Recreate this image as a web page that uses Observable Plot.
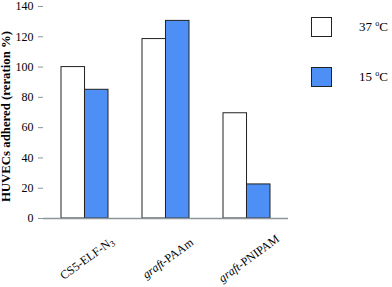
<!DOCTYPE html>
<html>
<head>
<meta charset="utf-8">
<script src="https://cdn.jsdelivr.net/npm/d3@7"></script>
<script src="https://cdn.jsdelivr.net/npm/@observablehq/plot@0.6"></script>
<style>
  html, body { margin: 0; padding: 0; background: #fff; }
  #wrap { position: relative; width: 392px; height: 287px; font-family: "Liberation Serif", "Times New Roman", serif; }
  .leg { position: absolute; left: 311px; width: 21px; height: 20px; box-sizing: border-box; border: 1px solid #222; }
  .legt { position: absolute; left: 359px; font-size: 13px; line-height: 14px; color: #000; white-space: nowrap; }
  .legt sup { font-size: 8px; vertical-align: 5px; line-height: 0; }
</style>
</head>
<body>
<div id="wrap"></div>
<script>
const categories = ["CS5-ELF-N3", "graft-PAAm", "graft-PNIPAM"];
// tick label pieces: italic prefix, plain main part, subscript suffix
const labelPrefix = ["", "graft", "graft"];
const labelMain = ["CS5-ELF-N", "-PAAm", "-PNIPAM"];
const labelSub = ["3", "", ""];
const seriesNames = ["37 °C", "15 °C"];
const values37 = [100, 118.5, 69.5];
const values15 = [85, 130.5, 22.5];
const yTicks = [0, 20, 40, 60, 80, 100, 120, 140];
const yLabel = "HUVECs adhered (reration %)";

const colors = ["#ffffff", "#4d8ff5"];
const W = 392, H = 287;
const mL = 43, mR = 104, mT = 6, mB = 69;
const pIn = 0.425, pOut = pIn / 2;
const step = (W - mL - mR) / (categories.length - pIn + 2 * pOut);
const bw = step * (1 - pIn);
const rot = -36;
const FONT = "'Liberation Serif', 'Times New Roman', serif";
const labSize = 12, subSize = 8.5;

const d37 = categories.map((c, i) => ({cat: c, v: values37[i]}));
const d15 = categories.map((c, i) => ({cat: c, v: values15[i]}));

// measure the pieces so they can be laid one after another along the rotated baseline
const ctx = document.createElement("canvas").getContext("2d");
function measure(str, font) { ctx.font = font; return str ? ctx.measureText(str).width : 0; }
const cosR = Math.cos(rot * Math.PI / 180), sinR = Math.sin(rot * Math.PI / 180);
const labelMarks = [];
categories.forEach((c, i) => {
  const pieces = [
    {s: labelPrefix[i], font: `italic ${labSize}px ${FONT}`, size: labSize, style: "italic", shift: 0},
    {s: labelMain[i], font: `${labSize}px ${FONT}`, size: labSize, style: "normal", shift: 0},
    {s: labelSub[i], font: `${subSize}px ${FONT}`, size: subSize, style: "normal", shift: 3}
  ];
  const lens = pieces.map(p => measure(p.s, p.font));
  const T = lens.reduce((a, b) => a + b, 0);
  let s = -T / 2;
  pieces.forEach((p, k) => {
    if (p.s) {
      const ox = 2 + s * cosR - p.shift * sinR;
      const oy = 40 + s * sinR + p.shift * cosR;
      labelMarks.push(Plot.text([c], {x: d => d, y: () => 0, text: () => p.s, rotate: rot, textAnchor: "start",
        dx: ox, dy: oy, fontSize: p.size, fontStyle: p.style}));
    }
    s += lens[k];
  });
});

const chart = Plot.plot({
  width: W, height: H,
  marginLeft: mL, marginRight: mR, marginTop: mT, marginBottom: mB,
  style: {fontFamily: FONT, fontSize: "12px", background: "#fff", color: "#000"},
  x: {domain: categories, paddingInner: pIn, paddingOuter: pOut, axis: null},
  y: {domain: [0, 140], axis: null},
  marks: [
    Plot.barY(d37, {x: "cat", y: "v", fill: colors[0], stroke: "#222", strokeWidth: 1, insetLeft: 0, insetRight: bw / 2}),
    Plot.barY(d15, {x: "cat", y: "v", fill: colors[1], stroke: "#222", strokeWidth: 1, insetLeft: bw / 2, insetRight: 0}),
    Plot.ruleY([0], {stroke: "#8a959c", strokeWidth: 1.5}),
    Plot.axisY({ticks: yTicks, tickSize: 5, tickPadding: 5, stroke: "#8a959c", line: true, label: null, fontSize: 12}),
    Plot.text([yLabel], {frameAnchor: "left", rotate: -90, dx: -37.5, dy: 4, fontWeight: "bold", fontSize: 12.8, textAnchor: "middle"}),
    ...labelMarks
  ]
});

document.getElementById("wrap").appendChild(chart);

// legend
const wrap = document.getElementById("wrap");
const legY = [17, 66.5];
seriesNames.forEach((s, i) => {
  const b = document.createElement("div");
  b.className = "leg";
  b.style.top = legY[i] + "px";
  b.style.background = colors[i];
  wrap.appendChild(b);
  const t = document.createElement("div");
  t.className = "legt";
  t.style.top = (legY[i] + 3) + "px";
  const parts = s.split(" ");
  t.innerHTML = parts[0] + " <sup>o</sup>" + parts[1].replace("°", "");
  wrap.appendChild(t);
});
</script>
</body>
</html>
